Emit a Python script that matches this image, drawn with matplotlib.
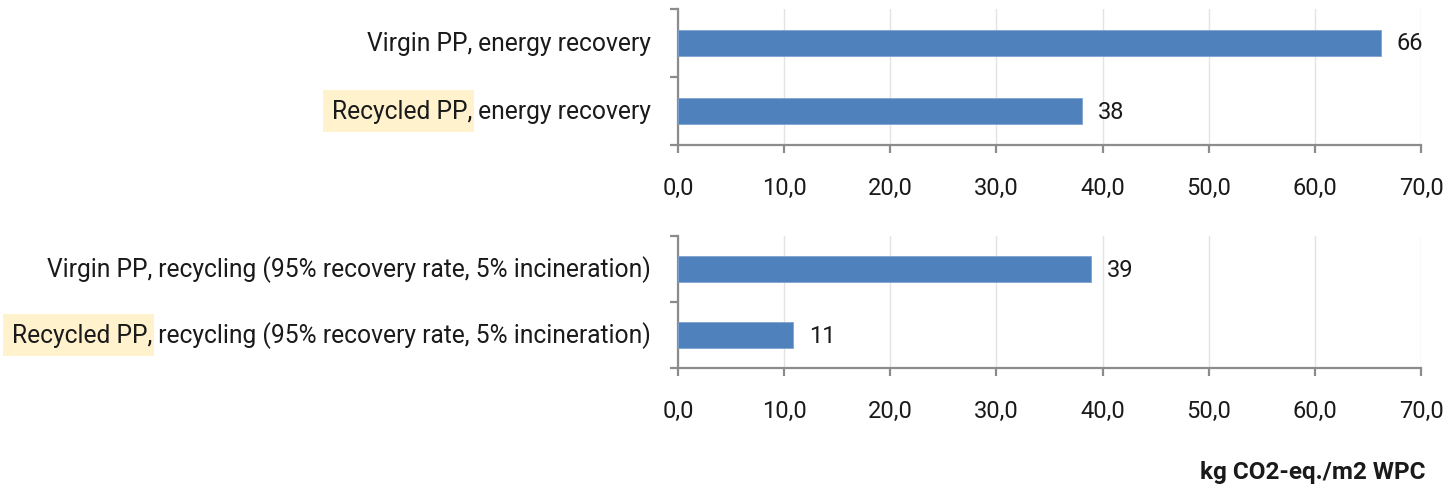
import matplotlib.pyplot as plt
import numpy as np
from matplotlib.patches import Rectangle

# panel 1: energy recovery, panel 2: recycling
prefijos_1 = ["Virgin PP,", "Recycled PP,"]
restos_1 = [" energy recovery", " energy recovery"]
valores_1 = [66.2, 38.1]
etiquetas_1 = ["66", "38"]

prefijos_2 = ["Virgin PP,", "Recycled PP,"]
restos_2 = [" recycling (95% recovery rate, 5% incineration)",
            " recycling (95% recovery rate, 5% incineration)"]
valores_2 = [38.9, 10.8]
etiquetas_2 = ["39", "11"]

resaltar = [False, True]
ticks_x = [0, 10, 20, 30, 40, 50, 60, 70]
unidad = "kg CO2-eq./m2 WPC"

AZUL = "#4F81BD"
GRIS = "#8C8C8C"
TEXTO = "#1a1a1a"
TAM = 17
TAM_CAT = 17.7
plt.rcParams["font.family"] = ["Roboto", "DejaVu Sans"]

fig = plt.figure(figsize=(14.5, 4.89), dpi=100)
ax1 = fig.add_axes([0.4676, 0.7014, 0.5124, 0.2782])
ax2 = fig.add_axes([0.4676, 0.2454, 0.5124, 0.2699])

resaltados = []


def dibujar(ax, prefijos, restos, valores, etiquetas):
    pos = np.array([0.5, 1.5])
    ax.barh(pos, valores, height=0.38, color=AZUL, edgecolor="#7FA3D0",
            linewidth=0.6, zorder=3)
    for p, v, e in zip(pos, valores, etiquetas):
        ax.text(v + 1.5, p, e, va="center", ha="left", fontsize=TAM,
                color=TEXTO)
    ax.set_xlim(0, 70)
    ax.set_ylim(2, 0)
    ax.set_xticks(ticks_x)
    ax.set_xticklabels([f"{t:.1f}".replace(".", ",") for t in ticks_x],
                       fontsize=TAM, color=TEXTO)
    ax.set_yticks([0, 1, 2])
    ax.set_yticklabels([])
    ax.grid(axis="x", color="#E3E3E3", linewidth=1, zorder=0)
    for s in ("top", "right"):
        ax.spines[s].set_visible(False)
    for s in ("left", "bottom"):
        ax.spines[s].set_color(GRIS)
        ax.spines[s].set_linewidth(1.6)
    ax.tick_params(axis="both", color=GRIS, width=1.6, length=6,
                   direction="out")
    ax.tick_params(axis="x", pad=16)
    for i, p in enumerate(pos):
        t1 = ax.annotate(restos[i], xy=(0, p), xycoords=("axes fraction", "data"),
                         xytext=(-19.5, 0), textcoords="offset points",
                         ha="right", va="center", fontsize=TAM_CAT, color=TEXTO)
        t2 = ax.annotate(prefijos[i], xy=(0, 0.5), xycoords=t1,
                         ha="right", va="center", fontsize=TAM_CAT, color=TEXTO)
        if resaltar[i]:
            resaltados.append(t2)


dibujar(ax1, prefijos_1, restos_1, valores_1, etiquetas_1)
dibujar(ax2, prefijos_2, restos_2, valores_2, etiquetas_2)

fig.text(0.983, 0.033, unidad, ha="right", va="center", fontsize=17.5,
         fontweight="bold", color=TEXTO)

# fondo amarillo detras de "Recycled PP,"
fig.canvas.draw()
W, H = fig.get_size_inches() * fig.dpi
for t in resaltados:
    bb = t.get_window_extent()
    yc = (bb.y0 + bb.y1) / 2
    fig.patches.append(Rectangle(((bb.x0 - 9) / W, (yc - 21) / H),
                                 (bb.width + 11) / W, 42 / H,
                                 transform=fig.transFigure,
                                 facecolor="#FFF2CC", edgecolor="none",
                                 zorder=-1))

fig.savefig("out.png", dpi=100)
